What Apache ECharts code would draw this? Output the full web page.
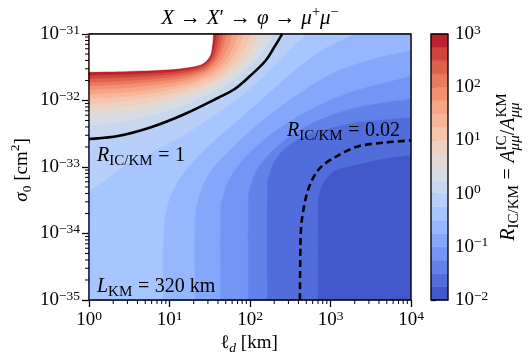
<!DOCTYPE html>
<html>
<head>
<meta charset="utf-8">
<script src="https://cdn.jsdelivr.net/npm/echarts@6/dist/echarts.min.js"></script>
<style>
html, body { margin: 0; padding: 0; background: #fff; }
#chart { width: 530px; height: 364px; }
</style>
</head>
<body>
<div id="chart"></div>
<script>
// filled-contour levels, log10(R_IC/KM)
const levels = [-2, -1.75, -1.5, -1.25, -1, -0.75, -0.5, -0.25, 0, 0.25, 0.5, 0.75, 1, 1.25, 1.5, 1.75, 2, 2.25, 2.5, 2.75, 3];

// contour lines, points are [log10(l_d / km), log10(sigma0 / cm^2)]
const cM175 = [[2.845, -35], [2.845, -33.6], [2.86, -33.4], [2.91, -33.23], [3.0, -33.1], [3.1, -33.03], [3.34, -32.96], [3.68, -32.87], [4, -32.82]];
const cM150 = [[2.21, -35], [2.21, -33.4], [2.24, -33.1], [2.32, -32.88], [2.45, -32.7], [2.65, -32.55], [2.9, -32.44], [3.3, -32.33], [3.7, -32.28], [4, -32.25]];
const cM125 = [[1.975, -35], [1.975, -33.6], [2.0, -33.3], [2.08, -33.05], [2.2, -32.85], [2.4, -32.62], [2.7, -32.38], [3.0, -32.22], [3.4, -32.08], [4, -31.97]];
const cM100 = [[1.63, -35], [1.63, -33.75], [1.66, -33.45], [1.74, -33.18], [1.88, -32.93], [2.1, -32.66], [2.4, -32.38], [2.8, -32.1], [3.3, -31.85], [4, -31.63]];
const cM075 = [[1.31, -35], [1.31, -33.9], [1.34, -33.55], [1.42, -33.25], [1.56, -32.98], [1.8, -32.68], [2.1, -32.35], [2.5, -31.98], [3.0, -31.6], [3.5, -31.38], [4, -31.24]];
const cM050 = [[0.92, -35], [0.92, -34.1], [0.95, -33.7], [1.03, -33.38], [1.18, -33.08], [1.45, -32.72], [1.8, -32.35], [2.2, -31.92], [2.6, -31.5], [2.95, -31.2], [3.3, -31]];
const cM025 = [[0, -33.35], [0.2, -33.2], [0.45, -32.97], [0.8, -32.76], [1.2, -32.5], [1.6, -32.18], [2.0, -31.82], [2.3, -31.48], [2.52, -31.2], [2.7, -31]];
const c000 = [[0, -32.579], [0.36, -32.534], [0.78, -32.398], [1.19, -32.203], [1.6, -31.962], [1.81, -31.827], [2.0, -31.632], [2.19, -31.406], [2.3, -31.2], [2.4, -31]];
const c025 = [[0, -32.371], [0.5, -32.3], [1, -32.14], [1.25, -32.033], [1.4, -31.952], [1.65, -31.8], [1.93, -31.56], [2.15, -31.29], [2.286, -31]];
const c050 = [[0, -32.235], [0.5, -32.174], [1, -32.037], [1.25, -31.941], [1.4, -31.865], [1.64, -31.73], [1.88, -31.52], [2.06, -31.27], [2.186, -31]];
const c075 = [[0, -32.13], [0.5, -32.077], [1, -31.958], [1.25, -31.87], [1.4, -31.798], [1.62, -31.68], [1.83, -31.49], [1.99, -31.26], [2.099, -31]];
const c100 = [[0, -32.047], [0.5, -31.999], [1, -31.894], [1.25, -31.814], [1.4, -31.745], [1.6, -31.64], [1.78, -31.46], [1.92, -31.24], [2.012, -31]];
const c125 = [[0, -31.971], [0.5, -31.93], [1, -31.837], [1.25, -31.763], [1.4, -31.697], [1.57, -31.6], [1.73, -31.43], [1.85, -31.22], [1.925, -31]];
const c150 = [[0, -31.904], [0.5, -31.867], [1, -31.786], [1.25, -31.717], [1.4, -31.654], [1.55, -31.56], [1.69, -31.4], [1.79, -31.2], [1.851, -31]];
const c175 = [[0, -31.836], [0.5, -31.804], [1, -31.734], [1.25, -31.672], [1.4, -31.611], [1.52, -31.53], [1.64, -31.38], [1.73, -31.19], [1.776, -31]];
const c200 = [[0, -31.775], [0.5, -31.747], [1, -31.688], [1.25, -31.63], [1.4, -31.572], [1.5, -31.5], [1.6, -31.36], [1.67, -31.18], [1.714, -31]];
const c225 = [[0, -31.722], [0.5, -31.699], [1, -31.648], [1.25, -31.595], [1.4, -31.539], [1.5, -31.46], [1.58, -31.33], [1.63, -31.17], [1.665, -31]];
const c250 = [[0, -31.668], [0.5, -31.648], [1, -31.607], [1.25, -31.558], [1.4, -31.504], [1.5, -31.42], [1.56, -31.3], [1.595, -31.15], [1.621, -31]];
const c275 = [[0, -31.617], [0.5, -31.602], [1, -31.568], [1.25, -31.524], [1.4, -31.472], [1.48, -31.41], [1.53, -31.3], [1.56, -31.15], [1.578, -31]];
const c300 = [[0, -31.567], [0.5, -31.555], [1, -31.53], [1.32, -31.48], [1.44, -31.42], [1.5, -31.33], [1.52, -31.24], [1.535, -31.1], [1.54, -31]];

// R = 0.02 (dashed)
const c002 = [[2.62, -35], [2.625, -34.3], [2.635, -33.9], [2.67, -33.6], [2.72, -33.35], [2.8, -33.13], [2.9, -32.98], [3.06, -32.85], [3.34, -32.69], [3.7, -32.63], [4, -32.6]];

// contours[j] belongs to levels[j + 1]
const contours = [cM175, cM150, cM125, cM100, cM075, cM050, cM025, c000, c025, c050, c075, c100, c125, c150, c175, c200, c225, c250, c275, c300];
// drawn lines: R = 1 solid, R = 0.02 dashed
const lines = [c000, c002];

const X0 = 0, X1 = 4, Y0 = -35, Y1 = -31;
// echarts rounds tiny numbers to 0, so the sigma axis runs in units of 1e-35 cm^2
const SIG_EXP = 35;

// matplotlib coolwarm
const coolwarm = [
  [59, 76, 192], [68, 90, 204], [77, 104, 215], [87, 117, 225], [98, 130, 234], [108, 142, 241],
  [119, 154, 247], [130, 165, 251], [141, 176, 254], [152, 185, 255], [163, 194, 255], [174, 201, 253],
  [184, 208, 249], [194, 213, 244], [204, 217, 238], [213, 219, 230], [221, 221, 221], [229, 216, 209],
  [236, 211, 197], [241, 204, 184], [245, 196, 172], [247, 187, 160], [247, 177, 148], [247, 166, 137],
  [244, 154, 123], [241, 141, 111], [236, 127, 99], [229, 112, 88], [222, 96, 77], [213, 80, 66],
  [203, 62, 56], [192, 40, 47], [180, 4, 38]
];
function bandColor(k) {
  const t = (k + 0.5) / (levels.length - 1) * (coolwarm.length - 1);
  const i = Math.min(Math.floor(t), coolwarm.length - 2), f = t - i;
  const c = coolwarm[i].map((v, n) => Math.round(v + (coolwarm[i + 1][n] - v) * f));
  return 'rgb(' + c.join(',') + ')';
}

const SERIF = '"Liberation Serif", "DejaVu Serif", serif';
const FS = 19, FS2 = 13.5;      // tick labels, axis names
const AN = 20, AN2 = 15;        // annotations, colorbar label

function toAxis(p) {
  return [Math.pow(10, p[0]), Math.pow(10, p[1] + SIG_EXP)];
}
function toPx(api, p) {
  return api.coord(toAxis(p));
}

// catmull-rom through the pixel points, as svg path commands
function curvePath(pts) {
  const f = v => v.toFixed(2);
  let d = 'M' + f(pts[0][0]) + ' ' + f(pts[0][1]);
  for (let i = 0; i < pts.length - 1; i++) {
    const p0 = pts[Math.max(i - 1, 0)], p1 = pts[i], p2 = pts[i + 1], p3 = pts[Math.min(i + 2, pts.length - 1)];
    const c1x = p1[0] + (p2[0] - p0[0]) / 6, c1y = p1[1] + (p2[1] - p0[1]) / 6;
    const c2x = p2[0] - (p3[0] - p1[0]) / 6, c2y = p2[1] - (p3[1] - p1[1]) / 6;
    d += ' C' + f(c1x) + ' ' + f(c1y) + ' ' + f(c2x) + ' ' + f(c2y) + ' ' + f(p2[0]) + ' ' + f(p2[1]);
  }
  return d;
}

function bandItem(params, api) {
  const k = api.value(2);
  if (k === 21) {
    const a = toPx(api, [X0, Y1]), b = toPx(api, [X1, Y0]);
    return { type: 'rect', shape: { x: a[0], y: a[1], width: b[0] - a[0], height: b[1] - a[1] },
      style: { fill: 'none', stroke: '#000', lineWidth: 1.3 } };
  }
  let d;
  if (k === 0) {
    const a = toPx(api, [X0, Y1]), b = toPx(api, [X1, Y0]);
    d = 'M' + a[0] + ' ' + a[1] + ' L' + b[0] + ' ' + a[1] + ' L' + b[0] + ' ' + b[1] + ' L' + a[0] + ' ' + b[1] + ' Z';
  } else {
    const line = contours[k - 1];
    const close = [];
    if (line[line.length - 1][0] >= X1) close.push([X1, Y1]);
    close.push([X0, Y1]);
    if (line[0][1] <= Y0) close.push([X0, Y0]);
    d = curvePath(line.map(p => toPx(api, p)));
    close.forEach(p => {
      const q = toPx(api, p);
      d += ' L' + q[0] + ' ' + q[1];
    });
    d += ' Z';
  }
  const fill = k < 20 ? bandColor(k) : '#ffffff';
  return { type: 'path', shape: { pathData: d },
    style: { fill: fill, stroke: fill, lineWidth: 0.6 } };
}

function lineItem(params, api) {
  const k = api.value(2);
  return { type: 'path', shape: { pathData: curvePath(lines[k].map(p => toPx(api, p))) },
    style: { fill: 'none', stroke: '#000', lineWidth: 2.6, lineDash: k === 1 ? [7, 4] : null } };
}

function cbarItem(params, api) {
  const k = api.value(2);
  if (k === 20) {
    const a = api.coord([0, 1000]), b = api.coord([1, 0.01]);
    return { type: 'rect', shape: { x: a[0], y: a[1], width: b[0] - a[0], height: b[1] - a[1] },
      style: { fill: 'none', stroke: '#000', lineWidth: 1.3 } };
  }
  const a = api.coord([0, Math.pow(10, levels[k + 1])]), b = api.coord([1, Math.pow(10, levels[k])]);
  return { type: 'rect', shape: { x: a[0], y: a[1], width: b[0] - a[0], height: b[1] - a[1] },
    style: { fill: bandColor(k), stroke: bandColor(k), lineWidth: 0.5 } };
}

// minor ticks at 2..9 x 10^n
const xMinor = [], yMinor = [];
for (let n = 0; n < 4; n++) for (let m = 2; m < 10; m++) xMinor.push([m * Math.pow(10, n), 1]);
for (let n = 0; n < 4; n++) for (let m = 2; m < 10; m++) yMinor.push([1, m * Math.pow(10, n)]);

function xMinorItem(params, api) {
  const p = api.coord([api.value(0), api.value(1)]);
  return { type: 'line', shape: { x1: p[0], y1: p[1], x2: p[0], y2: p[1] + 4 },
    style: { stroke: '#000', lineWidth: 1 } };
}
function yMinorItem(params, api) {
  const p = api.coord([api.value(0), api.value(1)]);
  return { type: 'line', shape: { x1: p[0] - 4, y1: p[1], x2: p[0], y2: p[1] },
    style: { stroke: '#000', lineWidth: 1 } };
}

function powText(e) {
  return '{b|10}{s|' + (e < 0 ? '\u2212' : '') + Math.abs(e) + '}';
}
const powRich = {
  b: { fontFamily: SERIF, fontSize: FS, lineHeight: 22, color: '#000' },
  s: { fontFamily: SERIF, fontSize: FS2, lineHeight: 13, verticalAlign: 'top', color: '#000' }
};

// math-ish text laid out from measured runs
const measure = document.createElement('canvas').getContext('2d');
function fontOf(s, base) {
  return (s.it ? 'italic ' : '') + (s.size || base) + 'px ' + SERIF;
}
function mathText(segs, x, y, align, rotation, base) {
  base = base || FS;
  let cx = 0, prev = 0;
  const items = [];
  segs.forEach(s => {
    measure.font = fontOf(s, base);
    const w = measure.measureText(s.t).width;
    const size = s.size || base;
    let sx;
    if (s.stack) {
      sx = prev;
      cx = Math.max(cx, sx + w);
    } else {
      sx = cx + (s.sp ? 0.28 * size : 0);
      cx = sx + w + (s.sp ? 0.28 * size : 0);
    }
    prev = sx;
    items.push({ s: s, x: sx, size: size });
  });
  const off = align === 'center' ? -cx / 2 : (align === 'right' ? -cx : 0);
  return {
    type: 'group', x: x, y: y, rotation: rotation || 0, z: 100,
    children: items.map(it => ({
      type: 'text', z: 100, x: it.x + off, y: (it.s.dy || 0) - 0.3 * it.size,
      style: { text: it.s.t, font: fontOf(it.s, base), fill: '#000', textAlign: 'left',
        verticalAlign: 'middle', textVerticalAlign: 'middle' }
    }))
  };
}

const subIC = { t: 'IC/KM', size: AN2, dy: 4 };
const texts = [
  mathText([{ t: 'X', it: 1 }, { t: '\u2192', sp: 1 }, { t: 'X', it: 1 }, { t: '\u2032' }, { t: '\u2192', sp: 1 },
    { t: '\u03c6', it: 1 }, { t: '\u2192', sp: 1 }, { t: '\u03bc', it: 1 }, { t: '+', size: 14.5, dy: -8 },
    { t: '\u03bc', it: 1 }, { t: '\u2212', size: 14.5, dy: -8 }], 250, 25, 'center', 0, 21),
  mathText([{ t: 'R', it: 1 }, subIC, { t: '=', sp: 1 }, { t: '1' }], 97, 162, 'left', 0, AN),
  mathText([{ t: 'R', it: 1 }, subIC, { t: '=', sp: 1 }, { t: '0.02' }], 287, 137, 'left', 0, AN),
  mathText([{ t: 'L', it: 1 }, { t: 'KM', size: AN2, dy: 4 }, { t: '=', sp: 1 }, { t: '320 km' }], 97, 293, 'left', 0, AN),
  mathText([{ t: '\u2113' }, { t: 'd', it: 1, size: FS2, dy: 4 }, { t: ' [km]' }], 249, 349, 'center'),
  mathText([{ t: '\u03c3', it: 1 }, { t: '0', size: FS2, dy: 4 }, { t: ' [cm' }, { t: '2', size: FS2, dy: -8 }, { t: ']' }],
    28, 170, 'center', Math.PI / 2),
  mathText([{ t: 'R', it: 1 }, subIC, { t: '=', sp: 1 },
    { t: 'A', it: 1 }, { t: 'IC', size: AN2, dy: -8 }, { t: '\u03bc\u03bc', it: 1, size: AN2, dy: 5, stack: 1 },
    { t: '/' },
    { t: 'A', it: 1 }, { t: 'KM', size: AN2, dy: -8 }, { t: '\u03bc\u03bc', it: 1, size: AN2, dy: 5, stack: 1 }],
    515, 167, 'center', Math.PI / 2, AN)
];

const tickStyle = { show: true, length: 7, lineStyle: { color: '#000', width: 1.3 } };

const chart = echarts.init(document.getElementById('chart'));
chart.setOption({
  backgroundColor: '#fff',
  animation: false,
  grid: [
    { left: 89, top: 34, width: 322, height: 266 },
    { left: 431, top: 34, width: 17, height: 266 }
  ],
  xAxis: [
    {
      type: 'log', gridIndex: 0, min: 1, max: 10000, logBase: 10,
      axisLine: { show: false }, splitLine: { show: false }, axisTick: tickStyle,
      axisLabel: { formatter: v => powText(Math.round(Math.log10(v))), rich: powRich, margin: 9,
        showMinLabel: true, showMaxLabel: true }
    },
    { type: 'value', gridIndex: 1, min: 0, max: 1, show: false }
  ],
  yAxis: [
    {
      type: 'log', gridIndex: 0, min: 1, max: 10000, logBase: 10,
      axisLine: { show: false }, splitLine: { show: false }, axisTick: tickStyle,
      axisLabel: { formatter: v => powText(Math.round(Math.log10(v)) - SIG_EXP), rich: powRich, margin: 9,
        showMinLabel: true, showMaxLabel: true }
    },
    {
      type: 'log', gridIndex: 1, min: 0.01, max: 1000, logBase: 10, position: 'right',
      axisLine: { show: false }, splitLine: { show: false },
      axisTick: { show: true, length: 5, lineStyle: { color: '#000', width: 1.3 } },
      axisLabel: { formatter: v => powText(Math.round(Math.log10(v))), rich: powRich, margin: 7,
        showMinLabel: true, showMaxLabel: true }
    }
  ],
  series: [
    {
      type: 'custom', name: 'bands', xAxisIndex: 0, yAxisIndex: 0, renderItem: bandItem,
      data: Array.from({ length: 22 }, (_, k) => [1, 1, k]), z: 1, silent: true
    },
    {
      type: 'custom', name: 'contour lines', xAxisIndex: 0, yAxisIndex: 0, renderItem: lineItem,
      data: [[1, 1, 0], [1, 1, 1]], z: 3, silent: true
    },
    { type: 'custom', name: 'xminor', xAxisIndex: 0, yAxisIndex: 0, renderItem: xMinorItem, data: xMinor, z: 4, silent: true },
    { type: 'custom', name: 'yminor', xAxisIndex: 0, yAxisIndex: 0, renderItem: yMinorItem, data: yMinor, z: 4, silent: true },
    {
      type: 'custom', name: 'colorbar', xAxisIndex: 1, yAxisIndex: 1, renderItem: cbarItem, silent: true,
      data: Array.from({ length: 21 }, (_, k) => [0.5, 1, k]), z: 1
    }
  ],
  graphic: texts
});
</script>
</body>
</html>
